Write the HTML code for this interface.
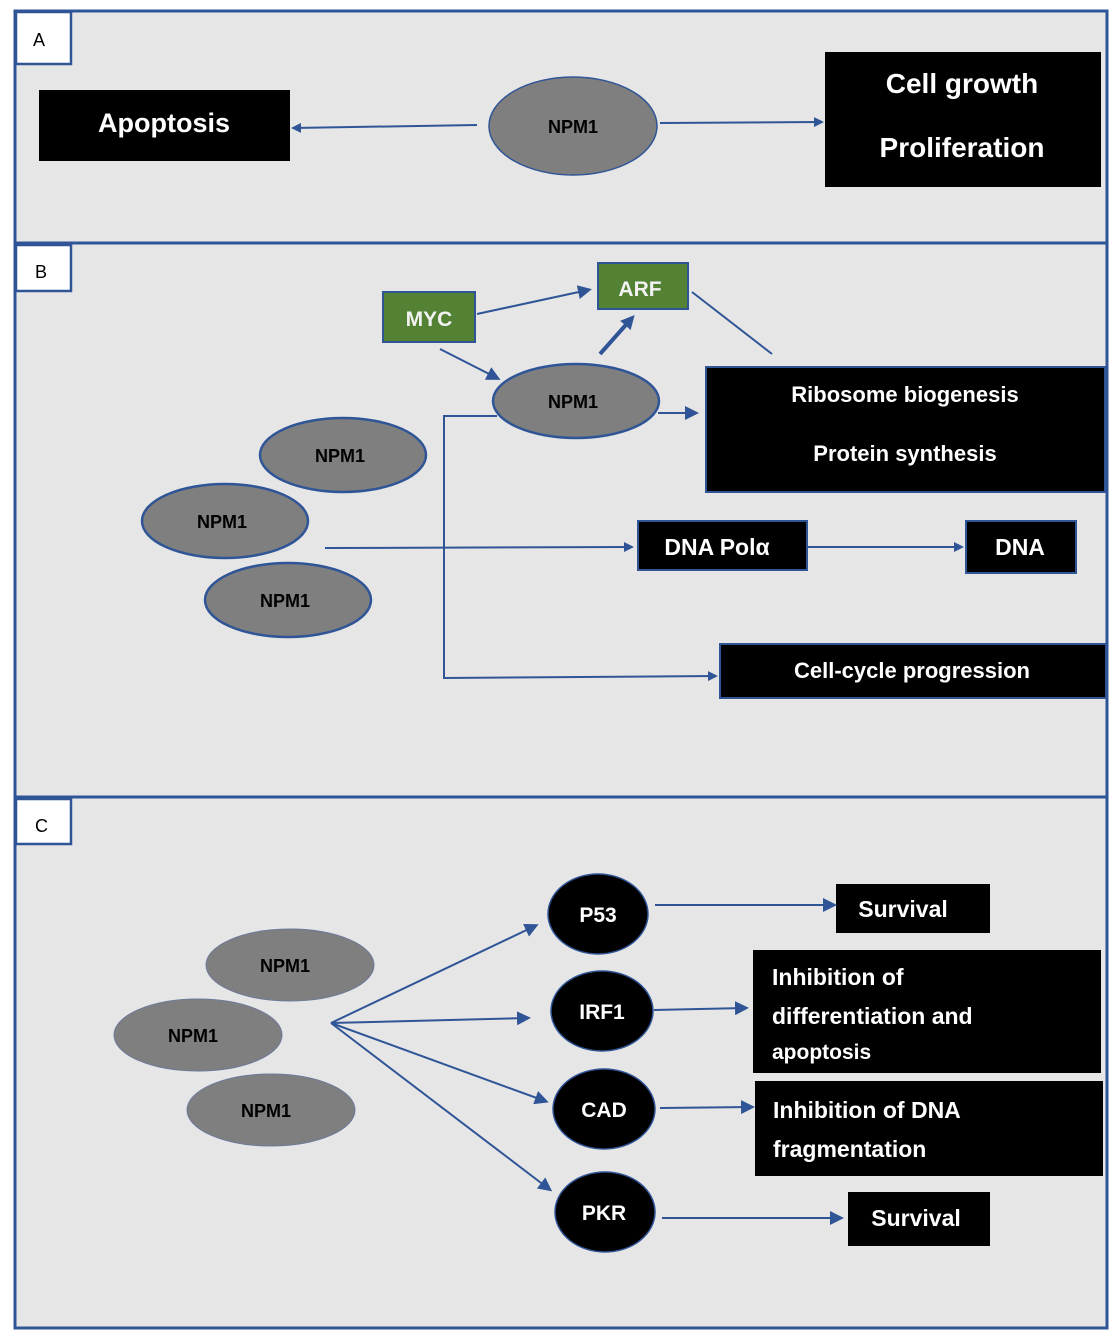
<!DOCTYPE html>
<html><head><meta charset="utf-8"><style>
body{margin:0;background:#fff;}
svg{display:block;font-family:"Liberation Sans",sans-serif;font-weight:bold;}
</style></head><body>
<svg width="1120" height="1341" viewBox="0 0 1120 1341" xmlns="http://www.w3.org/2000/svg">
<defs>
<marker id="a" markerWidth="10" markerHeight="10" refX="8" refY="5" orient="auto" markerUnits="userSpaceOnUse"><path d="M0,0 L10,5 L0,10 z" fill="#2f5597"/></marker>
<marker id="b" markerWidth="14" markerHeight="14" refX="10" refY="7" orient="auto" markerUnits="userSpaceOnUse"><path d="M0,0 L14,7 L0,14 z" fill="#2f5597"/></marker>
</defs>
<g stroke="#2f5597" stroke-width="3" fill="#e7e6e6">
<rect x="15" y="11" width="1092" height="232"/>
<rect x="15" y="243" width="1092" height="554"/>
<rect x="15" y="797" width="1092" height="531"/>
</g>
<g stroke="#2f5597" stroke-width="2.5" fill="#fff">
<rect x="16" y="12" width="55" height="52"/>
<rect x="16" y="245" width="55" height="46"/>
<rect x="16" y="799" width="55" height="45"/>
</g>
<g font-size="18" font-weight="normal" fill="#000">
<text x="33" y="46">A</text><text x="35" y="278">B</text><text x="35" y="832">C</text>
</g>
<!-- Panel A -->
<rect x="39" y="90" width="251" height="71" fill="#000"/>
<text x="164" y="132" fill="#fff" font-size="27" text-anchor="middle">Apoptosis</text>
<ellipse cx="573" cy="126" rx="84" ry="49" fill="#7f7f7f" stroke="#2f5597" stroke-width="1.5"/>
<text x="573" y="133" font-size="18" text-anchor="middle">NPM1</text>
<rect x="825" y="52" width="276" height="135" fill="#000"/>
<text x="962" y="93" fill="#fff" font-size="28" text-anchor="middle">Cell growth</text>
<text x="962" y="157" fill="#fff" font-size="28" text-anchor="middle">Proliferation</text>
<g stroke="#2f5597" stroke-width="2" fill="none" marker-end="url(#a)">
<line x1="477" y1="125" x2="293" y2="128"/>
<line x1="660" y1="123" x2="822" y2="122"/>
</g>
<!-- Panel B -->
<rect x="383" y="292" width="92" height="50" fill="#548235" stroke="#2f5597" stroke-width="2"/>
<text x="429" y="326" fill="#f2f2f2" font-size="21" text-anchor="middle">MYC</text>
<rect x="598" y="263" width="90" height="46" fill="#548235" stroke="#2f5597" stroke-width="2"/>
<text x="640" y="296" fill="#f2f2f2" font-size="21" text-anchor="middle">ARF</text>
<ellipse cx="576" cy="401" rx="83" ry="37" fill="#7f7f7f" stroke="#2f5597" stroke-width="2.5"/>
<text x="573" y="408" font-size="18" text-anchor="middle">NPM1</text>
<ellipse cx="343" cy="455" rx="83" ry="37" fill="#7f7f7f" stroke="#2f5597" stroke-width="2.5"/>
<text x="340" y="462" font-size="18" text-anchor="middle">NPM1</text>
<ellipse cx="225" cy="521" rx="83" ry="37" fill="#7f7f7f" stroke="#2f5597" stroke-width="2.5"/>
<text x="222" y="528" font-size="18" text-anchor="middle">NPM1</text>
<ellipse cx="288" cy="600" rx="83" ry="37" fill="#7f7f7f" stroke="#2f5597" stroke-width="2.5"/>
<text x="285" y="607" font-size="18" text-anchor="middle">NPM1</text>
<rect x="706" y="367" width="399" height="125" fill="#000" stroke="#2f5597" stroke-width="2"/>
<text x="905" y="402" fill="#fff" font-size="22" text-anchor="middle">Ribosome biogenesis</text>
<text x="905" y="461" fill="#fff" font-size="22" text-anchor="middle">Protein synthesis</text>
<rect x="638" y="521" width="169" height="49" fill="#000" stroke="#2f5597" stroke-width="2"/>
<text x="717" y="555" fill="#fff" font-size="23" text-anchor="middle">DNA Polα</text>
<rect x="966" y="521" width="110" height="52" fill="#000" stroke="#2f5597" stroke-width="2"/>
<text x="1020" y="555" fill="#fff" font-size="23" text-anchor="middle">DNA</text>
<rect x="720" y="644" width="386" height="54" fill="#000" stroke="#2f5597" stroke-width="2"/>
<text x="912" y="678" fill="#fff" font-size="22" text-anchor="middle">Cell-cycle progression</text>
<g stroke="#2f5597" stroke-width="2" fill="none">
<line x1="477" y1="314" x2="588" y2="290" marker-end="url(#b)"/>
<line x1="440" y1="349" x2="497" y2="378" marker-end="url(#b)"/>
<line x1="600" y1="354" x2="632" y2="318" stroke-width="4" marker-end="url(#b)"/>
<line x1="692" y1="292" x2="772" y2="354"/>
<line x1="658" y1="413" x2="695" y2="413" marker-end="url(#b)"/>
<line x1="325" y1="548" x2="632" y2="547" marker-end="url(#a)"/>
<line x1="808" y1="547" x2="962" y2="547" marker-end="url(#a)"/>
<polyline points="497,416 444,416 444,678 716,676" marker-end="url(#a)"/>
</g>
<!-- Panel C -->
<ellipse cx="290" cy="965" rx="84" ry="36" fill="#7f7f7f" stroke="#6b7a99" stroke-width="1"/>
<text x="285" y="972" font-size="18" text-anchor="middle">NPM1</text>
<ellipse cx="198" cy="1035" rx="84" ry="36" fill="#7f7f7f" stroke="#6b7a99" stroke-width="1"/>
<text x="193" y="1042" font-size="18" text-anchor="middle">NPM1</text>
<ellipse cx="271" cy="1110" rx="84" ry="36" fill="#7f7f7f" stroke="#6b7a99" stroke-width="1"/>
<text x="266" y="1117" font-size="18" text-anchor="middle">NPM1</text>
<g fill="#000" stroke="#2f5597" stroke-width="1.5">
<ellipse cx="598" cy="914" rx="50" ry="40"/>
<ellipse cx="602" cy="1011" rx="51" ry="40"/>
<ellipse cx="604" cy="1109" rx="51" ry="40"/>
<ellipse cx="605" cy="1212" rx="50" ry="40"/>
</g>
<g fill="#fff" font-size="21" text-anchor="middle">
<text x="598" y="922">P53</text><text x="602" y="1019">IRF1</text>
<text x="604" y="1117">CAD</text><text x="604" y="1220">PKR</text>
</g>
<rect x="836" y="884" width="154" height="49" fill="#000"/>
<text x="903" y="917" fill="#fff" font-size="23" text-anchor="middle">Survival</text>
<rect x="753" y="950" width="348" height="123" fill="#000"/>
<g fill="#fff" font-size="23"><text x="772" y="985">Inhibition of</text><text x="772" y="1024">differentiation and</text><text x="772" y="1059" font-size="21">apoptosis</text></g>
<rect x="755" y="1081" width="348" height="95" fill="#000"/>
<g fill="#fff" font-size="23"><text x="773" y="1118">Inhibition of DNA</text><text x="773" y="1157">fragmentation</text></g>
<rect x="848" y="1192" width="142" height="54" fill="#000"/>
<text x="916" y="1226" fill="#fff" font-size="23" text-anchor="middle">Survival</text>
<g stroke="#2f5597" stroke-width="2" fill="none">
<line x1="331" y1="1023" x2="535" y2="926" marker-end="url(#b)"/>
<line x1="331" y1="1023" x2="527" y2="1018" marker-end="url(#b)"/>
<line x1="331" y1="1023" x2="545" y2="1101" marker-end="url(#b)"/>
<line x1="331" y1="1023" x2="549" y2="1189" marker-end="url(#b)"/>
<line x1="655" y1="905" x2="833" y2="905" marker-end="url(#b)"/>
<line x1="654" y1="1010" x2="745" y2="1008" marker-end="url(#b)"/>
<line x1="660" y1="1108" x2="751" y2="1107" marker-end="url(#b)"/>
<line x1="662" y1="1218" x2="840" y2="1218" marker-end="url(#b)"/>
</g>
</svg>
</body></html>
